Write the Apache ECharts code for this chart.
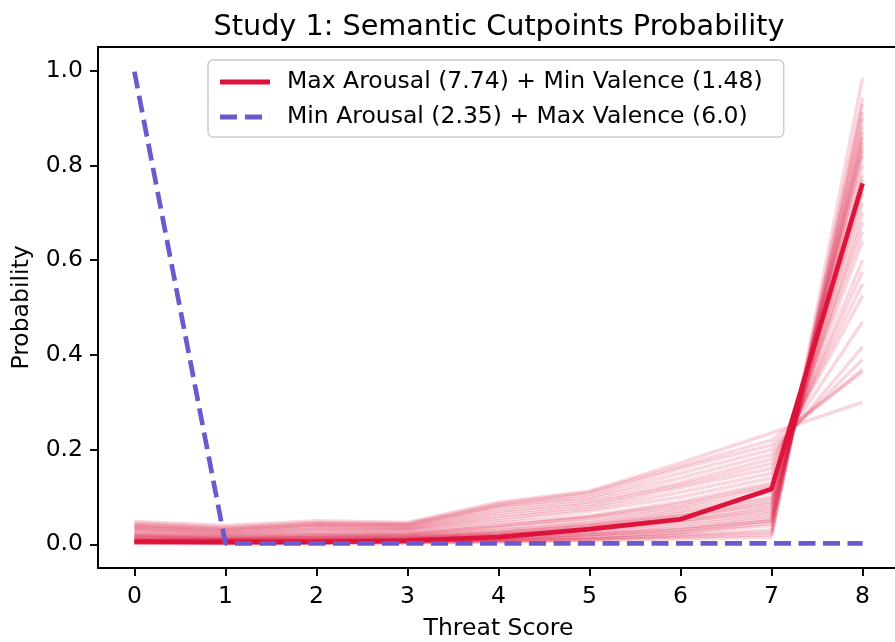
<!DOCTYPE html>
<html>
<head>
<meta charset="utf-8">
<script src="https://cdn.jsdelivr.net/npm/echarts@6/dist/echarts.min.js"></script>
<style>
  html, body { margin: 0; padding: 0; background: #fff; }
  #chart { width: 895px; height: 642px; }
</style>
</head>
<body>
<div id="chart"></div>
<script>
// Threat score categories (x positions)
const threatScores = [0, 1, 2, 3, 4, 5, 6, 7, 8];
const xTicks = [0, 1, 2, 3, 4, 5, 6, 7, 8];
const yTicks = [0, 0.2, 0.4, 0.6, 0.8, 1.0];

// Mean cutpoint probability curves
const maxArousalMinValence = [0.006, 0.005, 0.005, 0.008, 0.015, 0.032, 0.053, 0.117, 0.762];
const minArousalMaxValence = [0.998, 0.002, 0.002, 0.002, 0.002, 0.002, 0.002, 0.002, 0.002];

// Posterior draws for the high-arousal / low-valence profile
const draw01 = [0.002, 0.001, 0.002, 0.003, 0.005, 0.008, 0.012, 0.015, 0.985];
const draw02 = [0.003, 0.002, 0.003, 0.004, 0.006, 0.010, 0.015, 0.020, 0.943];
const draw03 = [0.004, 0.003, 0.004, 0.005, 0.008, 0.012, 0.020, 0.030, 0.930];
const draw04 = [0.003, 0.002, 0.003, 0.004, 0.007, 0.011, 0.018, 0.025, 0.912];
const draw05 = [0.005, 0.004, 0.005, 0.006, 0.010, 0.016, 0.025, 0.040, 0.900];
const draw06 = [0.006, 0.004, 0.006, 0.007, 0.012, 0.020, 0.030, 0.050, 0.882];
const draw07 = [0.004, 0.003, 0.004, 0.006, 0.009, 0.015, 0.025, 0.045, 0.870];
const draw08 = [0.008, 0.006, 0.008, 0.010, 0.015, 0.025, 0.040, 0.060, 0.860];
const draw09 = [0.007, 0.005, 0.007, 0.008, 0.013, 0.022, 0.035, 0.055, 0.850];
const draw10 = [0.010, 0.008, 0.010, 0.012, 0.020, 0.030, 0.050, 0.070, 0.840];
const draw11 = [0.006, 0.005, 0.006, 0.008, 0.012, 0.020, 0.032, 0.050, 0.830];
const draw12 = [0.012, 0.009, 0.012, 0.014, 0.022, 0.035, 0.055, 0.080, 0.820];
const draw13 = [0.009, 0.007, 0.009, 0.011, 0.018, 0.028, 0.045, 0.065, 0.800];
const draw14 = [0.015, 0.010, 0.014, 0.015, 0.025, 0.040, 0.060, 0.090, 0.780];
const draw15 = [0.011, 0.008, 0.011, 0.013, 0.020, 0.032, 0.050, 0.075, 0.770];
const draw16 = [0.018, 0.012, 0.016, 0.018, 0.030, 0.045, 0.070, 0.100, 0.750];
const draw17 = [0.014, 0.010, 0.013, 0.015, 0.024, 0.038, 0.060, 0.085, 0.740];
const draw18 = [0.020, 0.014, 0.018, 0.020, 0.035, 0.050, 0.075, 0.110, 0.720];
const draw19 = [0.016, 0.012, 0.015, 0.017, 0.028, 0.042, 0.065, 0.095, 0.700];
const draw20 = [0.022, 0.016, 0.020, 0.022, 0.040, 0.055, 0.080, 0.120, 0.680];
const draw21 = [0.025, 0.018, 0.024, 0.025, 0.045, 0.060, 0.090, 0.130, 0.660];
const draw22 = [0.020, 0.015, 0.020, 0.022, 0.038, 0.058, 0.085, 0.125, 0.640];
const draw23 = [0.028, 0.020, 0.026, 0.028, 0.050, 0.070, 0.100, 0.140, 0.600];
const draw24 = [0.030, 0.022, 0.030, 0.030, 0.055, 0.075, 0.110, 0.150, 0.576];
const draw25 = [0.032, 0.024, 0.032, 0.032, 0.060, 0.080, 0.120, 0.160, 0.550];
const draw26 = [0.035, 0.026, 0.035, 0.034, 0.065, 0.085, 0.125, 0.170, 0.525];
const draw27 = [0.036, 0.028, 0.038, 0.036, 0.070, 0.090, 0.130, 0.180, 0.470];
const draw28 = [0.038, 0.030, 0.040, 0.038, 0.075, 0.095, 0.140, 0.190, 0.417];
const draw29 = [0.040, 0.032, 0.042, 0.040, 0.080, 0.100, 0.150, 0.200, 0.390];
const draw30 = [0.042, 0.034, 0.044, 0.042, 0.082, 0.105, 0.160, 0.210, 0.370];
const draw31 = [0.045, 0.036, 0.046, 0.044, 0.085, 0.110, 0.165, 0.220, 0.364];
const draw32 = [0.048, 0.040, 0.050, 0.046, 0.089, 0.112, 0.172, 0.235, 0.300];
const draws = [draw01, draw02, draw03, draw04, draw05, draw06, draw07, draw08,
  draw09, draw10, draw11, draw12, draw13, draw14, draw15, draw16,
  draw17, draw18, draw19, draw20, draw21, draw22, draw23, draw24,
  draw25, draw26, draw27, draw28, draw29, draw30, draw31, draw32];

const nameRed = 'Max Arousal (7.74) + Min Valence (1.48)';
const nameBlue = 'Min Arousal (2.35) + Max Valence (6.0)';

const FONT = 'DejaVu Sans';
const RED = '#dc143c';
const BLUE = '#6a5acd';

// Legend handles: a solid bar and a two-dash bar
const SOLID_HANDLE = 'path://M0,0 H50 V5 H0 Z';
const DASHED_HANDLE = 'path://M0,0 H17 V5 H0 Z M25,0 H42 V5 H25 Z M49.9,0 H50 V5 H49.9 Z';

const pair = ys => threatScores.map((x, i) => [x, ys[i]]);

const drawSeries = draws.map(ys => ({
  type: 'line',
  data: pair(ys),
  symbol: 'none',
  silent: true,
  lineStyle: { color: RED, width: 3.5, opacity: 0.17 },
  z: 2
}));

const chart = echarts.init(document.getElementById('chart'), null, { renderer: 'canvas' });
chart.setOption({
  animation: false,
  backgroundColor: '#fff',
  textStyle: { fontFamily: FONT },
  title: {
    text: 'Study 1: Semantic Cutpoints Probability',
    left: 494, top: 8, textAlign: 'center',
    textStyle: { fontFamily: FONT, fontSize: 28.7, fontWeight: 'normal', color: '#000' }
  },
  grid: {
    left: 98, top: 47, width: 801, bottom: 74,
    outerBoundsMode: 'none',
    containLabel: false,
    show: true, borderColor: '#000', borderWidth: 1.9, backgroundColor: 'transparent'
  },
  legend: {
    data: [
      { name: nameRed, icon: SOLID_HANDLE },
      { name: nameBlue, icon: DASHED_HANDLE }
    ],
    orient: 'vertical',
    left: 208, top: 60,
    padding: [9, 21, 7, 12],
    itemGap: 9,
    itemWidth: 50, itemHeight: 5,
    symbolKeepAspect: false,
    borderColor: '#cccccc', borderWidth: 1.5, borderRadius: 5,
    backgroundColor: 'rgba(255,255,255,0.85)',
    textStyle: { fontFamily: FONT, fontSize: 23.5, color: '#000', lineHeight: 26, padding: [0, 0, 0, 12] }
  },
  xAxis: {
    type: 'value', min: -0.4, max: 8.4,
    name: 'Threat Score', nameLocation: 'middle', nameGap: 49,
    nameTextStyle: { fontFamily: FONT, fontSize: 23.5, color: '#000' },
    axisLine: { show: true, onZero: false, lineStyle: { color: '#000', width: 1.9 } },
    axisTick: { show: true, length: 8, lineStyle: { color: '#000', width: 1.9 }, customValues: xTicks },
    axisLabel: { fontFamily: FONT, fontSize: 23.5, color: '#000', margin: 17, customValues: xTicks },
    splitLine: { show: false }
  },
  yAxis: {
    type: 'value', min: -0.05, max: 1.05,
    name: 'Probability', nameLocation: 'middle', nameGap: 64,
    nameTextStyle: { fontFamily: FONT, fontSize: 23.5, color: '#000' },
    axisLine: { show: true, onZero: false, lineStyle: { color: '#000', width: 1.9 } },
    axisTick: { show: true, length: 8, lineStyle: { color: '#000', width: 1.9 }, customValues: yTicks },
    axisLabel: {
      fontFamily: FONT, fontSize: 23.5, color: '#000', margin: 15, customValues: yTicks,
      formatter: v => v.toFixed(1)
    },
    splitLine: { show: false }
  },
  series: drawSeries.concat([
    {
      name: nameRed, type: 'line', data: pair(maxArousalMinValence),
      symbol: 'none', lineStyle: { color: RED, width: 4.7 }, itemStyle: { color: RED }, z: 3
    },
    {
      name: nameBlue, type: 'line', data: pair(minArousalMaxValence),
      symbol: 'none', lineStyle: { color: BLUE, width: 4.7, type: [17, 7.5] }, itemStyle: { color: BLUE }, z: 4
    }
  ])
});
</script>
</body>
</html>
